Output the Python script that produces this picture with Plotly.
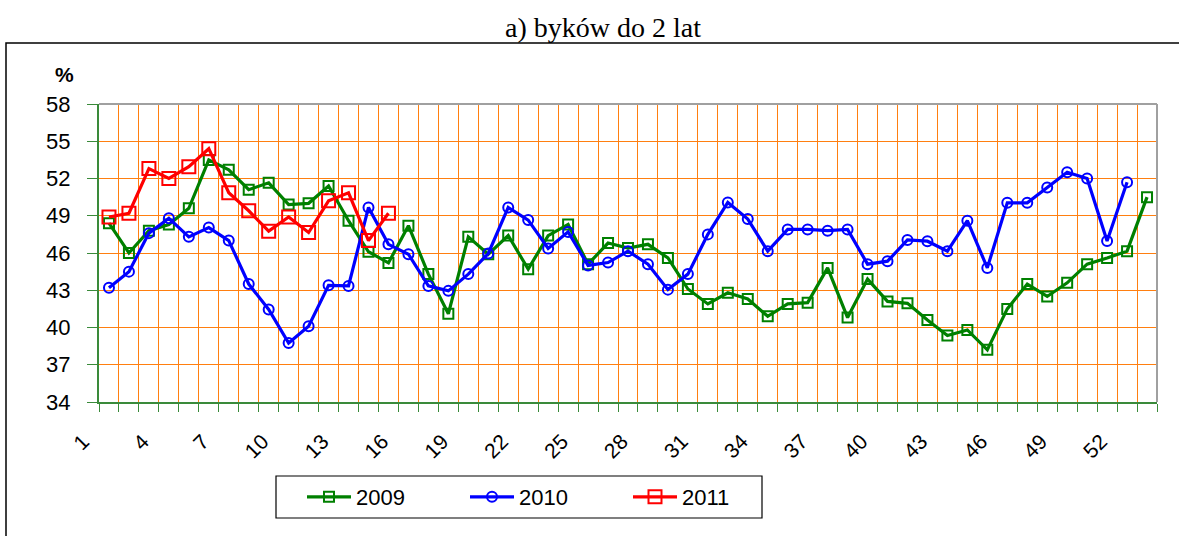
import plotly.graph_objects as go

weeks_2009 = list(range(1, 54))
vals_2009 = [48.4, 46.0, 47.8, 48.3, 49.6, 53.5, 52.7, 51.1, 51.65, 49.9,
             50.0, 51.4, 48.6, 46.1, 45.2, 48.2, 44.3, 41.1, 47.3, 45.9,
             47.4, 44.7, 47.4, 48.3, 45.1, 46.8, 46.4, 46.7, 45.6, 43.1,
             41.9, 42.8, 42.3, 40.9, 41.9, 42.0, 44.8, 40.8, 43.9, 42.1,
             41.95, 40.6, 39.35, 39.8, 38.2, 41.5, 43.5, 42.5, 43.6, 45.1,
             45.6, 46.15, 50.5]
weeks_2010 = list(range(1, 53))
vals_2010 = [43.2, 44.5, 47.6, 48.8, 47.3, 48.05, 47.0, 43.5, 41.45, 38.75,
             40.1, 43.4, 43.35, 49.67, 46.7, 45.9, 43.35, 42.95, 44.3, 45.96,
             49.67, 48.65, 46.36, 47.7, 45.0, 45.23, 46.15, 45.1, 43.05, 44.3,
             47.5, 50.07, 48.73, 46.15, 47.9, 47.9, 47.8, 47.9, 45.1, 45.34,
             47.05, 46.95, 46.15, 48.6, 44.8, 50.04, 50.04, 51.28, 52.5, 52.0,
             46.97, 51.7]
weeks_2011 = list(range(1, 16))
vals_2011 = [48.9, 49.2, 52.8, 52.0, 52.95, 54.4, 50.85, 49.4, 47.76, 48.9,
             47.65, 50.2, 50.85, 47.0, 49.2]

tick_weeks = list(range(1, 54, 3))
tick_labels = [str(w) for w in tick_weeks]
y_ticks = list(range(34, 59, 3))

GREEN = "#008000"
AXIS_GREEN = "#3A8A3A"
ORANGE = "#FF7F10"

fig = go.Figure()
fig.add_trace(go.Scatter(
    x=weeks_2009, y=vals_2009, name="2009", mode="lines+markers",
    line=dict(color=GREEN, width=3.2),
    marker=dict(symbol="square-open", size=10, color=GREEN, line=dict(width=2, color=GREEN)),
))
fig.add_trace(go.Scatter(
    x=weeks_2010, y=vals_2010, name="2010", mode="lines+markers",
    line=dict(color="#0000FF", width=3.2),
    marker=dict(symbol="circle-open", size=10, color="#0000FF", line=dict(width=2, color="#0000FF")),
))
fig.add_trace(go.Scatter(
    x=weeks_2011, y=vals_2011, name="2011", mode="lines+markers",
    line=dict(color="#FF0000", width=3.2),
    marker=dict(symbol="square-open", size=13, color="#FF0000", line=dict(width=2, color="#FF0000")),
))

boundaries = [w - 0.5 for w in weeks_2009] + [weeks_2009[-1] + 0.5]

W, H = 1179, 536
L, R, T, B = 99, 22, 104, 134
pw, ph = W - L - R, H - T - B


def px(x):
    return (x - L) / pw


def py(y):
    return (H - B - y) / ph


fig.update_layout(
    width=W, height=H,
    margin=dict(l=L, r=R, t=T, b=B),
    paper_bgcolor="white", plot_bgcolor="white",
    font=dict(family="Arial, Liberation Sans, sans-serif", color="black"),
    showlegend=True,
    legend=dict(
        orientation="h", x=px(302), xanchor="left", y=py(497), yanchor="middle",
        font=dict(size=22, family="Arial, Liberation Sans, sans-serif"),
        bgcolor="rgba(0,0,0,0)", entrywidth=104, entrywidthmode="pixels",
        itemwidth=44,
    ),
    xaxis=dict(
        range=[0.5, 53.5], tickmode="array", tickvals=tick_weeks, ticktext=tick_labels,
        tickangle=-45, ticks="", showgrid=False, zeroline=False,
        showline=True, linecolor=AXIS_GREEN, linewidth=2,
        tickfont=dict(size=21), ticklabelshift=-26, ticklabelstandoff=17,
        minor=dict(tickmode="array", tickvals=boundaries, ticks="outside", ticklen=8,
                   tickcolor=AXIS_GREEN, tickwidth=1, showgrid=True,
                   gridcolor=ORANGE, gridwidth=1),
    ),
    yaxis=dict(
        range=[34, 58], tickmode="array", tickvals=y_ticks,
        showgrid=True, gridcolor=ORANGE, gridwidth=1, zeroline=False,
        showline=True, linecolor=AXIS_GREEN, linewidth=2,
        ticks="outside", ticklen=10, tickcolor=AXIS_GREEN, tickwidth=1,
        tickfont=dict(size=22), ticklabelstandoff=12,
    ),
    shapes=[
        dict(type="line", xref="paper", yref="paper", x0=0, x1=1, y0=1, y1=1,
             line=dict(color="#A0A0A0", width=2)),
        dict(type="line", xref="paper", yref="paper", x0=1, x1=1, y0=0, y1=1,
             line=dict(color="#A0A0A0", width=2)),
        dict(type="rect", xref="paper", yref="paper", x0=px(6), x1=px(1190), y0=py(560), y1=py(43),
             line=dict(color="black", width=1.5)),
        dict(type="rect", xref="paper", yref="paper", x0=px(276), x1=px(762), y0=py(518), y1=py(476),
             line=dict(color="black", width=1.2)),
    ],
    annotations=[
        dict(text="a) byków do 2 lat", xref="paper", yref="paper", x=px(603), y=py(27),
             xanchor="center", yanchor="middle", showarrow=False,
             font=dict(family="Times New Roman, Liberation Serif, serif", size=28, color="black")),
        dict(text="<b>%</b>", xref="paper", yref="paper", x=px(64), y=py(74),
             xanchor="center", yanchor="middle", showarrow=False,
             font=dict(size=21, color="black")),
    ],
)

fig.write_html("out.html", config={"displayModeBar": False},
               post_script="document.body.style.margin='0';document.body.style.overflow='hidden';")
